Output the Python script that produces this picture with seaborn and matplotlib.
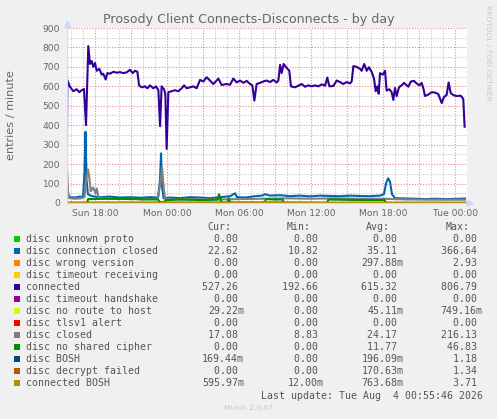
import pandas as pd
import matplotlib
matplotlib.use('Agg')
import matplotlib.pyplot as plt
import matplotlib.dates as mdates
from matplotlib.ticker import MultipleLocator, FuncFormatter
from matplotlib.patches import Rectangle
import seaborn as sns

# time axis: hours relative to Sun 18:00
base = pd.Timestamp('2026-08-02 18:00')
x_start, x_end = -2.375, 30.96

# legend / series names (munin draw order)
names = ['disc unknown proto', 'disc connection closed', 'disc wrong version',
         'disc timeout receiving', 'connected', 'disc timeout handshake',
         'disc no route to host', 'disc tlsv1 alert', 'disc closed',
         'disc no shared cipher', 'disc BOSH', 'disc decrypt failed', 'connected BOSH']
colors = ['#00CC00', '#0066B3', '#FF8000', '#FFCC00', '#330099', '#990099',
          '#CCFF00', '#FF0000', '#808080', '#008F00', '#00487D', '#B35A00', '#B38F00']

cur_vals = ['0.00', '22.62', '0.00', '0.00', '527.26', '0.00', '29.22m', '0.00',
            '17.08', '0.00', '169.44m', '0.00', '595.97m']
min_vals = ['0.00', '10.82', '0.00', '0.00', '192.66', '0.00', '0.00', '0.00',
            '8.83', '0.00', '0.00', '0.00', '12.00m']
avg_vals = ['0.00', '35.11', '297.88m', '0.00', '615.32', '0.00', '45.11m', '0.00',
            '24.17', '11.77', '196.09m', '170.63m', '763.68m']
max_vals = ['0.00', '366.64', '2.93', '0.00', '806.79', '0.00', '749.16m', '0.00',
            '216.13', '46.83', '1.18', '1.34', '3.71']

# connected
connected_h = [-2.40, -2.35, -2.13, -1.85, -1.57, -1.35, -1.15, -0.96, -0.79, -0.60,
               -0.46, -0.32, -0.18, -0.04, 0.10, 0.32, 0.52, 0.65, 0.85, 0.99,
               1.21, 1.49, 1.77, 2.04, 2.32, 2.60, 2.88, 3.10, 3.29, 3.49,
               3.63, 3.85, 4.13, 4.32, 4.54, 4.82, 5.04, 5.24, 5.38, 5.51,
               5.71, 5.82, 5.93, 6.07, 6.35, 6.63, 6.90, 7.18, 7.38, 7.60,
               7.88, 8.15, 8.43, 8.71, 8.99, 9.26, 9.54, 9.82, 10.24, 10.51,
               10.93, 11.21, 11.49, 11.76, 12.04, 12.32, 12.60, 12.88, 13.07, 13.24,
               13.43, 13.71, 13.99, 14.26, 14.54, 14.82, 15.10, 15.24, 15.38, 15.51,
               15.68, 15.93, 16.15, 16.29, 16.63, 16.90, 17.18, 17.46, 17.74, 18.01,
               18.29, 18.57, 18.85, 19.13, 19.32, 19.49, 19.82, 20.10, 20.38, 20.65,
               20.93, 21.21, 21.35, 21.49, 21.76, 22.04, 22.18, 22.40, 22.60, 22.79,
               23.01, 23.21, 23.35, 23.49, 23.60, 23.71, 23.93, 24.13, 24.26, 24.49,
               24.68, 24.82, 24.96, 25.10, 25.29, 25.51, 25.71, 25.88, 26.07, 26.29,
               26.54, 26.76, 26.99, 27.18, 27.32, 27.46, 27.74, 28.01, 28.29, 28.57,
               28.85, 29.04, 29.26, 29.43, 29.60, 29.82, 30.10, 30.43, 30.65, 30.76]
connected_v = [0, 632, 598, 575, 585, 570, 580, 586, 401, 807,
               715, 730, 700, 720, 680, 690, 660, 665, 635, 668,
               665, 675, 670, 673, 668, 672, 685, 668, 680, 675,
               605, 595, 600, 590, 605, 590, 600, 580, 395, 600,
               585, 560, 278, 570, 575, 580, 575, 590, 605, 590,
               595, 600, 590, 633, 625, 647, 630, 612, 640, 607,
               612, 608, 640, 620, 630, 618, 628, 612, 605, 527,
               612, 618, 625, 630, 622, 633, 620, 630, 710, 668,
               715, 695, 680, 600, 595, 603, 612, 598, 605, 600,
               605, 600, 610, 603, 645, 600, 602, 630, 622, 612,
               622, 615, 625, 704, 700, 690, 680, 715, 680, 698,
               675, 640, 575, 600, 562, 668, 660, 680, 578, 585,
               570, 530, 592, 550, 595, 605, 618, 608, 598, 625,
               628, 615, 605, 618, 590, 550, 558, 570, 568, 560,
               514, 545, 555, 620, 565, 555, 550, 552, 535, 392]

# disc connection closed
conn_closed_h = [-2.40, -2.29, -2.13, -1.71, -1.29, -1.04, -0.92, -0.83, -0.75, -0.63,
                 -0.29, 0.38, 1.21, 2.04, 2.88, 3.71, 4.54, 5.21, 5.38, 5.46,
                 5.54, 5.67, 6.21, 7.04, 7.88, 8.71, 9.54, 10.38, 11.21, 11.63,
                 11.79, 12.46, 13.29, 13.88, 14.13, 14.54, 15.38, 16.21, 17.04, 17.88,
                 18.71, 19.54, 20.38, 21.21, 22.04, 22.88, 23.71, 24.04, 24.21, 24.38,
                 24.54, 24.71, 24.96, 25.79, 26.63, 27.46, 28.29, 29.13, 29.96, 30.79]
conn_closed_v = [100, 45, 30, 28, 33, 30, 150, 366, 120, 45,
                 35, 30, 33, 28, 30, 27, 30, 28, 120, 255,
                 90, 25, 28, 25, 30, 28, 25, 30, 35, 50,
                 30, 28, 35, 38, 45, 38, 40, 35, 38, 34,
                 38, 36, 35, 38, 36, 35, 38, 45, 100, 127,
                 110, 45, 25, 23, 22, 20, 22, 20, 21, 23]

# disc closed
closed_h = [-2.40, -2.29, -2.20, -1.70, -1.20, -0.92, -0.75, -0.62, -0.50, -0.40,
            -0.20, 0.00, 0.10, 0.25, 1.00, 2.00, 3.00, 4.00, 5.20, 5.45,
            5.55, 5.65, 5.80, 6.50, 8.00, 10.00, 12.00, 14.00, 16.00, 18.00,
            20.00, 22.00, 24.00, 26.00, 28.00, 30.80]
closed_v = [215, 60, 25, 22, 24, 30, 140, 172, 120, 60,
            80, 50, 75, 28, 22, 20, 22, 18, 22, 120,
            182, 100, 20, 18, 20, 18, 20, 22, 24, 22,
            24, 22, 22, 18, 17, 17]

# disc no shared cipher
cipher_h = [-2.40, -0.70, -0.62, 1.00, 3.00, 5.20, 5.40, 5.70, 5.85, 7.00,
            9.00, 10.20, 10.29, 10.45, 10.55, 11.00, 11.10, 11.25, 14.10, 14.20,
            15.00, 15.60, 15.70, 19.30, 19.40, 22.00, 24.10, 24.20, 30.80]
cipher_v = [0, 0, 20, 22, 20, 18, 2, 2, 15, 18,
            15, 18, 45, 15, 0, 0, 25, 0, 0, 20,
            18, 18, 0, 0, 18, 15, 15, 0, 0]

# tiny series
zero_h = [-2.40, 30.80]
zero_v = [0, 0]
wrong_h = [-2.40, -2.15, -2.05, -1.95, 30.80]
wrong_v = [0, 0, 2.9, 0, 0]
noroute_h = [-2.40, 8.0, 8.1, 30.80]
noroute_v = [0, 0, 0.75, 0.03]
bosh_h = [-2.40, 5.0, 12.0, 20.0, 30.80]
bosh_v = [0.2, 0.3, 1.18, 0.2, 0.17]
decrypt_h = [-2.40, 6.0, 14.0, 22.0, 30.80]
decrypt_v = [0.2, 1.34, 0.1, 0.0, 0.0]
cbosh_h = [-2.40, 3.0, 8.0, 14.0, 20.0, 26.0, 30.80]
cbosh_v = [0.8, 1.2, 0.5, 3.7, 0.6, 0.9, 0.6]

series = [(zero_h, zero_v), (conn_closed_h, conn_closed_v), (wrong_h, wrong_v),
          (zero_h, zero_v), (connected_h, connected_v), (zero_h, zero_v),
          (noroute_h, noroute_v), (zero_h, zero_v), (closed_h, closed_v),
          (cipher_h, cipher_v), (bosh_h, bosh_v), (decrypt_h, decrypt_v),
          (cbosh_h, cbosh_v)]

frames = []
for name, (h, v) in zip(names, series):
    frames.append(pd.DataFrame({'time': base + pd.to_timedelta(h, unit='h'),
                                'value': v, 'series': name}))
df = pd.concat(frames, ignore_index=True)

W, H = 497, 419
fig = plt.figure(figsize=(W / 100, H / 100), dpi=100, facecolor='#F0F0F0')
ax = fig.add_axes([67 / W, 1 - 203 / H, 400 / W, 175 / H])
ax.set_facecolor('white')

sns.lineplot(data=df, x='time', y='value', hue='series', hue_order=names,
             palette=dict(zip(names, colors)), legend=False, linewidth=1.5,
             estimator=None, ax=ax)

ax.set_xlim(base + pd.Timedelta(hours=x_start), base + pd.Timedelta(hours=x_end))
ax.set_ylim(0, 900)
ax.yaxis.set_major_locator(MultipleLocator(100))
ax.yaxis.set_minor_locator(MultipleLocator(50))
ax.xaxis.set_major_locator(mdates.HourLocator(byhour=range(0, 24, 3)))
ax.xaxis.set_minor_locator(mdates.HourLocator())


def fmt_time(x, pos):
    d = mdates.num2date(x)
    return d.strftime('%a %H:%M') if d.hour % 6 == 0 else ''


ax.xaxis.set_major_formatter(FuncFormatter(fmt_time))
ax.grid(which='minor', color='#C4C4C4', linestyle=(0, (1, 1.5)), linewidth=0.8)
ax.grid(which='major', color='#E88C8C', linestyle=(0, (1, 1.5)), linewidth=0.8)
ax.set_axisbelow(True)
ax.tick_params(which='both', length=0, labelsize=6.6, labelcolor='#666666')
ax.tick_params(axis='y', pad=5)
ax.tick_params(axis='x', pad=4)
ax.set_xlabel('')
ax.set_ylabel('')
for s in ['top', 'right']:
    ax.spines[s].set_visible(False)
for s in ['left', 'bottom']:
    ax.spines[s].set_color('#CFD6F8')
ax.plot([1.008], [0], marker='>', ms=4, color='#CFD6F8', transform=ax.transAxes, clip_on=False)
ax.plot([0], [1.025], marker='^', ms=4, color='#CFD6F8', transform=ax.transAxes, clip_on=False)
ax.plot([0, 0], [1.0, 1.025], color='#CFD6F8', lw=0.8, transform=ax.transAxes, clip_on=False)


def px(x, y):
    return x / W, 1 - y / H


fig.text(*px(248.5, 19.5), 'Prosody Client Connects-Disconnects - by day',
         ha='center', va='center', fontsize=9.1, color='#666666')
fig.text(*px(11, 115), 'entries / minute', rotation=90, ha='center', va='center',
         fontsize=8.1, color='#666666')
fig.text(*px(488, 53), 'RRDTOOL / TOBI OETIKER', rotation=270, ha='center',
         va='center', fontsize=5.4, color='#C8C8C8')

mono = 'DejaVu Sans Mono'
lc = '#555555'
for label, xr in zip(['Cur:', 'Min:', 'Avg:', 'Max:'], [231.3, 310.7, 390, 470]):
    fig.text(*px(xr, 227.3), label, ha='right', va='center', fontsize=7.1,
             family=mono, color=lc)

for i, name in enumerate(names):
    y = 239.3 + 12 * i
    fig.patches.append(Rectangle(px(14, y + 3), 6 / W, 6 / H, facecolor=colors[i],
                                 edgecolor='none', transform=fig.transFigure))
    fig.text(*px(26.3, y), name, ha='left', va='center', fontsize=7.1,
             family=mono, color=lc)
    for vals, xr in zip([cur_vals, min_vals, avg_vals, max_vals], [244, 324, 403.3, 482.7]):
        v = vals[i]
        if not v.endswith('m'):
            v = v + ' '
        fig.text(*px(xr, y), v, ha='right', va='center', fontsize=7.1,
                 family=mono, color=lc)

fig.text(*px(482.7, 395.7), 'Last update: Tue Aug  4 00:55:46 2026', ha='right',
         va='center', fontsize=7.1, family=mono, color=lc)
fig.text(*px(248.3, 408.3), 'Munin 2.0.67', ha='center', va='center',
         fontsize=5.4, color='#C8C8C8')

fig.savefig('out.png', dpi=100, facecolor=fig.get_facecolor())
